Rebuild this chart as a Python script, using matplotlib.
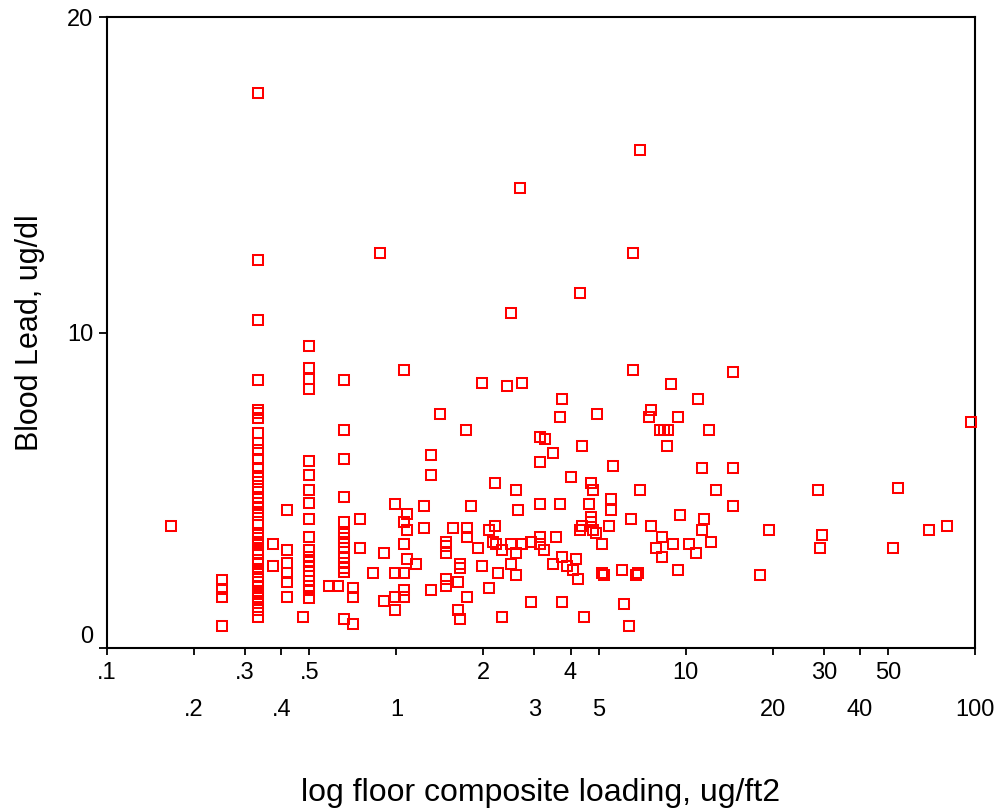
import matplotlib
matplotlib.use("Agg")
import matplotlib.pyplot as plt

# floor composite loading (ug/ft2) and blood lead (ug/dl)
floor_loading = [
    0.166,
    0.25, 0.25, 0.25, 0.25,
    0.333, 0.333, 0.333, 0.333, 0.333, 0.333, 0.333, 0.333, 0.333, 0.333,
    0.333, 0.333, 0.333, 0.333, 0.333, 0.333, 0.333, 0.333, 0.333, 0.333,
    0.333, 0.333, 0.333, 0.333, 0.333, 0.333, 0.333, 0.333, 0.333, 0.333,
    0.333, 0.333, 0.333, 0.333, 0.333, 0.333, 0.333, 0.333, 0.333, 0.333,
    0.333,
    0.375, 0.375,
    0.418, 0.418, 0.418, 0.418, 0.418, 0.418,
    0.474,
    0.5, 0.5, 0.5, 0.5, 0.5, 0.5, 0.5, 0.5, 0.5, 0.5,
    0.5, 0.5, 0.5, 0.5, 0.5, 0.5, 0.5, 0.5, 0.5, 0.5,
    0.585, 0.628,
    0.66, 0.66, 0.66, 0.66, 0.66, 0.66, 0.66, 0.66, 0.66, 0.66, 0.66, 0.66, 0.66, 0.66,
    0.71, 0.71, 0.71,
    0.749, 0.749,
    0.832, 0.878,
    0.909, 0.909,
    0.99, 0.99, 0.99, 0.99,
    1.066, 1.066, 1.066, 1.066, 1.066, 1.066,
    1.086, 1.086, 1.086,
    1.17,
    1.25, 1.25,
    1.32, 1.32, 1.32,
    1.416,
    1.49, 1.49, 1.49, 1.49, 1.49,
    1.574,
    1.63, 1.63,
    1.66, 1.66, 1.66,
    1.745,
    1.75, 1.75, 1.75,
    1.81, 1.91,
    1.98, 1.98,
    2.09, 2.09,
    2.16,
    2.20, 2.20,
    2.21, 2.24,
    2.32, 2.32,
    2.41,
    2.49, 2.49, 2.49,
    2.59, 2.59, 2.59,
    2.63, 2.676,
    2.72, 2.72,
    2.92, 2.92,
    3.14, 3.14, 3.14, 3.14, 3.14,
    3.24, 3.26,
    3.49, 3.49,
    3.55,
    3.67, 3.67,
    3.75, 3.75, 3.75,
    3.88, 4.02, 4.09, 4.17, 4.25,
    4.31, 4.31,
    4.39, 4.39,
    4.46, 4.63, 4.70,
    4.71, 4.71,
    4.80, 4.80,
    4.89, 4.95,
    5.15, 5.15,
    5.23, 5.43,
    5.52, 5.52,
    5.62, 6.04, 6.14, 6.37, 6.47,
    6.59, 6.59,
    6.71, 6.83,
    6.95, 6.95,
    7.47,
    7.59, 7.59,
    7.88, 8.15,
    8.30, 8.30,
    8.43, 8.59, 8.66, 8.90, 9.07,
    9.38, 9.38,
    9.56, 10.27, 10.83, 11.0,
    11.41, 11.41,
    11.6, 12.04, 12.23, 12.70,
    14.61, 14.61, 14.61,
    18.07, 19.4, 28.6, 29.1, 29.7, 52.2, 54.1, 69.3, 79.8, 96.8,
]

blood_lead = [
    3.87,
    2.16, 1.87, 1.62, 0.70,
    17.6, 12.3, 10.4, 8.5, 7.55, 7.45, 7.3, 6.83, 6.5, 6.28,
    5.98, 5.69, 5.45, 5.25, 5.05, 4.8, 4.6, 4.45, 4.3, 4.2,
    3.9, 3.65, 3.5, 3.35, 3.25, 3.1, 3.0, 2.8, 2.65, 2.5,
    2.4, 2.25, 2.1, 1.95, 1.8, 1.7, 1.58, 1.42, 1.3, 1.2,
    0.98,
    3.31, 2.61,
    4.37, 3.11, 2.68, 2.37, 2.10, 1.63,
    0.97,
    9.57, 8.88, 8.53, 8.2, 5.93, 5.48, 5.01, 4.59, 4.08, 3.53,
    3.12, 2.89, 2.74, 2.6, 2.45, 2.27, 2.12, 1.96, 1.84, 1.6,
    1.98, 1.98,
    8.5, 6.9, 5.98, 4.78, 4.0, 3.62, 3.5, 3.35, 3.16, 2.89, 2.68, 2.55, 2.42, 0.91,
    1.89, 1.62, 0.76,
    4.08, 3.16,
    2.39, 12.53,
    3.02, 1.49,
    4.57, 2.39, 1.63, 1.20,
    8.81, 4.00, 3.31, 2.39, 1.84, 1.62,
    4.24, 3.73, 2.81,
    2.67,
    4.50, 3.79,
    6.12, 5.48, 1.84,
    7.41,
    3.37, 3.23, 3.02, 2.18, 1.97,
    3.79,
    2.10, 1.20,
    2.67, 2.52, 0.91,
    6.90,
    3.79, 3.52, 1.62,
    4.50, 3.16,
    8.39, 2.60,
    3.73, 1.90,
    3.37,
    5.22, 3.87,
    3.31, 2.39,
    3.10, 0.98,
    8.31,
    10.63, 3.31, 2.67,
    5.00, 3.02, 2.31,
    4.36, 14.57,
    8.39, 3.31,
    3.37, 1.47,
    6.68, 5.91, 4.57, 3.52, 3.31,
    3.10, 6.62,
    6.19, 2.67,
    3.52,
    7.33, 4.57,
    7.89, 2.88, 1.47,
    2.60, 5.42, 2.46, 2.81, 2.18,
    11.26, 3.74,
    6.40, 3.87,
    0.98, 4.57, 5.22,
    4.15, 4.00,
    5.01, 3.73,
    3.66, 7.41,
    3.31, 2.39,
    2.31, 3.87,
    4.71, 4.36,
    5.77, 2.46, 1.40, 0.70, 4.08,
    12.53, 8.81,
    2.31, 2.39,
    15.77, 5.00,
    7.33,
    7.54, 3.87,
    3.16, 6.90,
    3.52, 2.88,
    6.90, 6.40, 6.90, 8.38, 3.31,
    7.33, 2.46,
    4.22, 3.31, 3.02, 7.89,
    5.69, 3.73,
    4.08, 6.90, 3.37, 5.00,
    8.74, 5.69, 4.50,
    2.31, 3.73, 5.00, 3.16, 3.58, 3.16, 5.06, 3.73, 3.87, 7.17,
]

top_ticks = [0.1, 0.3, 0.5, 2, 4, 10, 30, 50]
top_labels = [".1", ".3", ".5", "2", "4", "10", "30", "50"]
bottom_ticks = [0.2, 0.4, 1, 3, 5, 20, 40, 100]
bottom_labels = [".2", ".4", "1", "3", "5", "20", "40", "100"]
y_ticks = [0, 10, 20]

plt.rcParams['font.family'] = ['Liberation Sans', 'DejaVu Sans']

fig = plt.figure(figsize=(10.01, 8.11), dpi=100)
ax = fig.add_axes([107 / 1001, 163 / 811, 868 / 1001, 631 / 811])

ax.plot(floor_loading, blood_lead, 's', mfc='none', mec='#ff0000',
        ms=6.5, mew=1.45, clip_on=False, zorder=3)

ax.set_xscale('log')
ax.set_xlim(0.1, 100)
ax.set_ylim(0, 20)

ax.set_xticks(top_ticks, top_labels)
ax.set_xticks(bottom_ticks, bottom_labels, minor=True)
ax.tick_params(axis='x', which='major', length=5, width=1.3, pad=5, labelsize=17)
ax.tick_params(axis='x', which='minor', length=5, width=1.3, pad=32, labelsize=17)
ax.set_yticks(y_ticks)
ax.tick_params(axis='y', length=6, width=1.3, pad=4, labelsize=17)
ax.get_yticklabels()[0].set_va('bottom')

for s in ax.spines.values():
    s.set_linewidth(1.5)

ax.set_xlabel('log floor composite loading, ug/ft2', fontsize=23)
ax.xaxis.label.set_va('center')
ax.xaxis.set_label_coords(0.5, -(793 - 648) / 631)
ax.set_ylabel('Blood Lead, ug/dl', fontsize=22)
ax.yaxis.label.set_va('center')
ax.yaxis.set_label_coords(-(107 - 30) / 868, 0.5)

fig.savefig('out.png', dpi=100)
